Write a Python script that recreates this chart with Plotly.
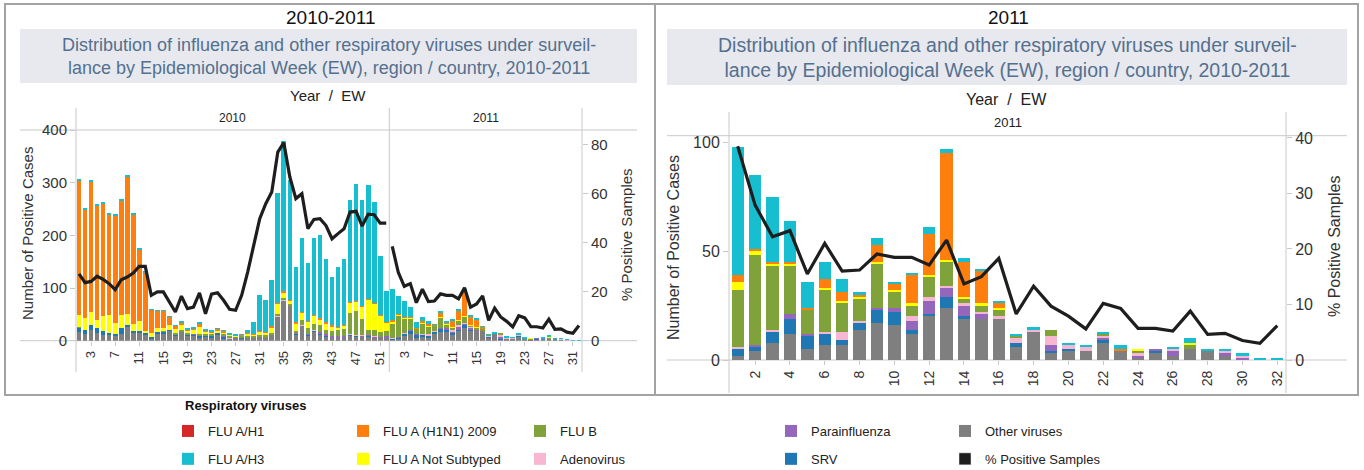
import plotly.graph_objects as go

# ------------------------------------------------------------------ data
weeks_2010 = list(range(1, 53))
weeks_2011 = list(range(1, 33))

other_2010 = [16, 12, 20, 14, 10, 11, 9, 13, 27, 15, 14, 11, 5, 14, 14, 19, 10, 18, 10, 9, 7, 8, 7, 12, 5, 4,
              4, 5, 7, 7, 8, 7, 11, 45, 77, 65, 11, 28, 10, 18, 12, 8, 6, 6, 6, 10, 8, 8, 8, 6, 6, 6]
srv_2010 = [9, 8, 9, 11, 8, 4, 4, 11, 3, 4, 5, 4, 2, 3, 3, 2, 2, 0, 2, 3, 3, 2, 1, 2, 3, 1,
            0, 2, 0, 0, 0, 0, 0, 0, 0, 0, 2, 0, 1, 2, 2, 2, 0, 0, 1, 1, 1, 0, 1, 1, 0, 1]
para_2010 = [0, 0, 0, 0, 0, 0, 0, 0, 0, 0, 0, 0, 0, 0, 0, 0, 0, 0, 0, 1, 0, 0, 0, 0, 1, 0,
             2, 0, 0, 0, 0, 0, 0, 0, 0, 0, 1, 0, 2, 0, 2, 3, 3, 2, 2, 1, 1, 1, 1, 1, 1, 1]
adeno_2010 = [0, 0, 0, 0, 0, 0, 0, 0, 0, 0, 0, 0, 0, 0, 0, 0, 0, 0, 0, 0, 0, 0, 0, 0, 0, 2,
              0, 0, 0, 0, 0, 0, 0, 1, 1, 0, 0, 1, 0, 1, 0, 0, 0, 0, 0, 1, 1, 1, 0, 1, 0, 0]
fluB_2010 = [1, 0, 0, 0, 0, 0, 0, 0, 0, 0, 0, 0, 0, 0, 1, 0, 2, 2, 2, 0, 2, 3, 4, 0, 3, 3,
             2, 2, 3, 2, 3, 3, 3, 4, 3, 4, 5, 10, 11, 11, 13, 8, 10, 14, 14, 40, 45, 31, 11, 12, 10, 10]
notsub_2010 = [22, 24, 26, 14, 29, 33, 20, 25, 20, 13, 19, 4, 8, 8, 7, 8, 8, 9, 5, 8, 14, 4, 4, 5, 4, 1,
               1, 1, 3, 3, 6, 6, 11, 20, 11, 7, 14, 14, 12, 15, 12, 12, 8, 3, 5, 19, 19, 24, 57, 50, 30, 16]
h1n1_2010 = [257, 206, 248, 217, 213, 192, 204, 217, 262, 208, 135, 111, 44, 32, 32, 16, 6, 6, 3, 3, 6, 3, 2, 4, 3, 1,
             1, 1, 2, 1, 1, 1, 2, 2, 3, 2, 2, 2, 2, 2, 2, 2, 2, 1, 1, 1, 1, 1, 2, 1, 1, 1]
h1_2010 = [0] * 52
h3_2010 = [2, 2, 2, 2, 2, 2, 2, 2, 2, 2, 2, 2, 1, 1, 1, 1, 1, 1, 1, 1, 2, 1, 2, 1, 1, 1,
           1, 1, 5, 22, 69, 61, 89, 208, 285, 228, 105, 140, 110, 146, 158, 121, 92, 114, 127, 195, 222, 202, 215, 192, 112, 59]
pct_2010 = [27.3, 23.7, 24.2, 26.3, 25.0, 23.3, 20.8, 24.9, 26.0, 27.6, 30.3, 30.3, 18.5, 19.9, 19.9, 15.8, 11.7,
            18.2, 13.1, 13.7, 19.5, 11.0, 19.0, 19.6, 16.5, 12.8, 12.4, 18.5, 28.0, 38.9, 49.8, 55.9, 60.7, 77.0,
            80.8, 66.8, 58.0, 60.0, 45.7, 49.5, 49.8, 47.0, 41.6, 43.7, 45.7, 52.5, 52.8, 46.8, 51.6, 51.4, 48.0, 48.0]

other_2011 = [2, 4, 8, 12, 5, 7, 7, 14, 17, 16, 12, 20, 24, 19, 19, 19, 6, 13, 3, 4, 4, 8, 4, 1, 3, 2, 5, 4, 2, 0, 0, 0]
srv_2011 = [3, 2, 5, 7, 6, 5, 2, 3, 6, 6, 2, 1, 5, 1, 0, 0, 2, 0, 1, 1, 0, 1, 0, 0, 1, 0, 0, 0, 0, 0, 0, 0]
para_2011 = [0, 1, 0, 2, 1, 0, 0, 0, 1, 2, 4, 6, 4, 5, 2, 0, 0, 0, 3, 0, 0, 1, 0, 1, 1, 2, 0, 0, 1, 1, 0, 0]
adeno_2011 = [1, 0, 1, 0, 0, 1, 4, 1, 0, 0, 2, 2, 1, 1, 1, 1, 2, 1, 4, 2, 2, 1, 0, 1, 0, 1, 0, 0, 1, 1, 0, 0]
fluB_2011 = [26, 41, 29, 22, 11, 19, 13, 10, 20, 7, 5, 9, 11, 2, 3, 3, 1, 0, 3, 0, 0, 1, 0, 1, 0, 0, 2, 0, 0, 0, 0, 0]
notsub_2011 = [4, 2, 1, 1, 0, 1, 1, 1, 1, 1, 1, 1, 1, 1, 1, 1, 0, 0, 0, 0, 0, 0, 0, 1, 0, 0, 1, 0, 0, 0, 0, 0]
h1n1_2011 = [3, 1, 1, 1, 1, 4, 4, 1, 8, 3, 13, 19, 49, 16, 15, 2, 0, 0, 0, 0, 0, 0, 1, 0, 0, 0, 0, 0, 0, 0, 0, 0]
h1_2011 = [0] * 32
h3_2011 = [59, 34, 30, 19, 12, 8, 6, 1, 3, 1, 1, 3, 2, 2, 1, 1, 1, 1, 0, 1, 1, 1, 2, 0, 0, 1, 2, 1, 1, 1, 1, 1]
pct_2011 = [38.5, 27.9, 22.2, 23.3, 15.5, 21.0, 16.0, 16.2, 19.1, 18.5, 18.5, 17.1, 21.6, 13.7, 15.0, 18.3,
            8.3, 13.3, 9.7, 7.9, 5.6, 10.2, 9.3, 5.7, 5.7, 5.2, 8.8, 4.6, 4.8, 3.5, 3.0, 6.2]

ticks_left_2010 = [3, 7, 11, 15, 19, 23, 27, 31, 35, 39, 43, 47, 51]
ticks_left_2011 = [3, 7, 11, 15, 19, 23, 27, 31]
ticks_right_2011 = [2, 4, 6, 8, 10, 12, 14, 16, 18, 20, 22, 24, 26, 28, 30, 32]
ticks_cases_left = [0, 100, 200, 300, 400]
ticks_pct_left = [0, 20, 40, 60, 80]
ticks_cases_right = [0, 50, 100]
ticks_pct_right = [0, 10, 20, 30, 40]

# --------------------------------------------------------------- styling
W, H = 1364, 470
FONT = "Arial, 'Liberation Sans', sans-serif"
TXT = "#333333"
GRID = "#c9c9c9"


def px(x):
    return x / W


def py(y):
    return 1 - y / H


# (name, colour, 2010 values, 2011 values, legend column, rank) in stack order (bottom first)
series = [
    ("Other viruses", "#7f7f7f", other_2010, other_2011, "legend5", 1),
    ("SRV", "#1f77b4", srv_2010, srv_2011, "legend4", 2),
    ("Parainfluenza", "#9467bd", para_2010, para_2011, "legend4", 1),
    ("Adenovirus", "#f7b6d2", adeno_2010, adeno_2011, "legend3", 2),
    ("FLU B", "#7fa33a", fluB_2010, fluB_2011, "legend3", 1),
    ("FLU A Not Subtyped", "#ffff00", notsub_2010, notsub_2011, "legend2", 2),
    ("FLU A (H1N1) 2009", "#ff7f0e", h1n1_2010, h1n1_2011, "legend2", 1),
    ("FLU A/H3", "#17becf", h3_2010, h3_2011, "legend", 2),
    ("FLU A/H1", "#d62728", h1_2010, h1_2011, "legend", 1),
]

n2010 = len(weeks_2010)
pos_2010 = [w - 1 for w in weeks_2010]
pos_2011 = [n2010 + w - 1 for w in weeks_2011]

fig = go.Figure()

for name, color, d10, d11, leg, rank in series:
    fig.add_trace(go.Bar(
        x=pos_2010 + pos_2011, y=d10 + d11, name=name, marker_color=color,
        marker_line_width=0, width=0.78, xaxis="x", yaxis="y",
        legendgroup=name, legend=leg, legendrank=rank, showlegend=True,
        hovertemplate="%{y}<extra>" + name + "</extra>"))
    fig.add_trace(go.Bar(
        x=weeks_2011, y=d11, name=name, marker_color=color,
        marker_line_width=0, width=0.71, xaxis="x3", yaxis="y3",
        legendgroup=name, showlegend=False,
        hovertemplate="%{y}<extra>" + name + "</extra>"))

LINE = dict(color="#1e1e1e", width=3.2)
fig.add_trace(go.Scatter(x=pos_2010, y=pct_2010, mode="lines", line=LINE, xaxis="x", yaxis="y2",
                         legendgroup="pct", showlegend=False, name="% Positive Samples"))
fig.add_trace(go.Scatter(x=pos_2011, y=pct_2011, mode="lines", line=LINE, xaxis="x", yaxis="y2",
                         legendgroup="pct", showlegend=False, name="% Positive Samples"))
fig.add_trace(go.Scatter(x=weeks_2011, y=pct_2011, mode="lines", line=LINE, xaxis="x3", yaxis="y4",
                         legendgroup="pct", showlegend=False, name="% Positive Samples"))
# legend swatch for the line series (square, as in the original)
fig.add_trace(go.Bar(x=[None], y=[None], name="% Positive Samples", marker_color="#1e1e1e",
                     legendgroup="pct", legend="legend5", legendrank=2, showlegend=True))

base_axis = dict(ticks="outside", tickcolor=GRID, showgrid=False, zeroline=False, showline=False,
                 automargin=False)


def tf(size):
    return dict(family=FONT, color=TXT, size=size)


fig.update_layout(
    width=W, height=H, margin=dict(l=0, r=0, t=0, b=0, autoexpand=False),
    paper_bgcolor="white", plot_bgcolor="white",
    barmode="stack", font=dict(family=FONT, color=TXT),
    xaxis=dict(domain=[px(76), px(582)], range=[-0.5, n2010 + len(weeks_2011) - 0.5], anchor="y",
               tickmode="array",
               tickvals=[w - 1 for w in ticks_left_2010] + [n2010 + w - 1 for w in ticks_left_2011],
               ticktext=[str(w) for w in ticks_left_2010 + ticks_left_2011],
               tickangle=-90, ticklen=4, tickfont=tf(13), **base_axis),
    yaxis=dict(domain=[py(340.7), py(130)], range=[0, 400], anchor="x", tickmode="array",
               tickvals=ticks_cases_left, ticklen=5, tickfont=tf(15), **base_axis),
    yaxis2=dict(overlaying="y", side="right", anchor="x", range=[0, 86], tickmode="array",
                tickvals=ticks_pct_left, ticklen=5, tickfont=tf(15), **base_axis),
    xaxis3=dict(domain=[px(729), px(1286)], range=[0.5, len(weeks_2011) + 0.5], anchor="y3",
                tickmode="array", tickvals=ticks_right_2011,
                ticktext=[str(w) for w in ticks_right_2011], tickangle=-90, ticklen=4,
                tickfont=tf(14), **base_axis),
    yaxis3=dict(domain=[py(360), py(135.7)], range=[0, 103], anchor="x3", tickmode="array",
                tickvals=ticks_cases_right, ticklen=5, tickfont=tf(16), **base_axis),
    yaxis4=dict(overlaying="y3", side="right", anchor="x3", range=[0, 40.4], tickmode="array",
                tickvals=ticks_pct_right, ticklen=5, tickfont=tf(16), **base_axis),
)

# ---- legends: five columns of two entries
legend_cols = {"legend": 168, "legend2": 343, "legend3": 520, "legend4": 771, "legend5": 945}
for key, xpix in legend_cols.items():
    fig.update_layout({key: dict(x=px(xpix), y=py(416), xanchor="left", yanchor="top",
                                 orientation="v", bgcolor="rgba(0,0,0,0)", tracegroupgap=8,
                                 font=dict(family=FONT, size=13, color="#222222"),
                                 itemclick=False, itemdoubleclick=False)})

# ---- frames, header rules and subtitle boxes
shapes = []


def hline(y, x0, x1, color=GRID, width=1):
    shapes.append(dict(type="line", xref="paper", yref="paper", x0=px(x0), x1=px(x1), y0=py(y), y1=py(y),
                       line=dict(color=color, width=width), layer="below"))


def vline(x, y0, y1, color=GRID, width=1):
    shapes.append(dict(type="line", xref="paper", yref="paper", x0=px(x), x1=px(x), y0=py(y0), y1=py(y1),
                       line=dict(color=color, width=width), layer="below"))


def box(x0, y0, x1, y1, fill):
    shapes.append(dict(type="rect", xref="paper", yref="paper", x0=px(x0), x1=px(x1), y0=py(y1), y1=py(y0),
                       fillcolor=fill, line=dict(width=0), layer="below"))


box(20, 29, 637, 83, "#e7e9ee")
box(667, 29, 1347, 85, "#e7e9ee")
hline(130, 20, 637)
hline(340.7, 20, 637)
vline(76, 108, 372)
vline(389.3, 108, 372)
vline(582, 108, 372)
hline(135.7, 667, 1347)
hline(360, 667, 1347)
vline(729, 112, 393)
vline(1286, 112, 393)
# outer panel frames
shapes.append(dict(type="rect", xref="paper", yref="paper", x0=px(5), x1=px(1358), y0=py(395), y1=py(4),
                   line=dict(color="#a3a3a3", width=2), fillcolor="rgba(0,0,0,0)", layer="below"))
vline(655, 4, 395, color="#a3a3a3", width=2)
fig.update_layout(shapes=shapes)

# ---- text
ann = []


def text(x, y, s, size, color=TXT, angle=0, xanchor="center", bold=False):
    ann.append(dict(x=px(x), y=py(y), xref="paper", yref="paper", text=("<b>%s</b>" % s) if bold else s,
                    showarrow=False, textangle=angle, xanchor=xanchor, yanchor="middle",
                    font=dict(family=FONT, size=size, color=color)))


SUB = ("Distribution of influenza and other respiratory viruses under surveil-<br>"
       "lance by Epidemiological Week (EW), region / country, 2010-2011")
text(330, 17, "2010-2011", 19, color="#111111")
text(1008, 17, "2011", 19, color="#111111")
text(328.5, 56.5, SUB, 18, color="#55708f")
text(1007, 57.5, SUB, 19.5, color="#55708f")
text(328, 96, "Year\u00a0 /\u00a0 EW", 15, color="#222222")
text(1006, 99, "Year\u00a0 /\u00a0 EW", 16, color="#222222")
text(232.6, 118, "2010", 12, color="#222222")
text(485.6, 118, "2011", 12, color="#222222")
text(1007.5, 122, "2011", 13, color="#222222")
text(28, 234, "Number of Positive Cases", 15, angle=-90)
text(626, 235, "% Positive Samples", 15, angle=-90)
text(673, 248, "Number of Positive Cases", 16, angle=-90)
text(1334, 247, "% Positive Samples", 16, angle=-90)
text(183, 405, "Respiratory viruses", 13, color="#111111", xanchor="left", bold=True)
fig.update_layout(annotations=ann)

# the page's default 8px body margin would push the figure off its 1364x470 frame
fig.write_html("out.html", config={"displayModeBar": False},
               post_script="document.body.style.margin='0px';")
